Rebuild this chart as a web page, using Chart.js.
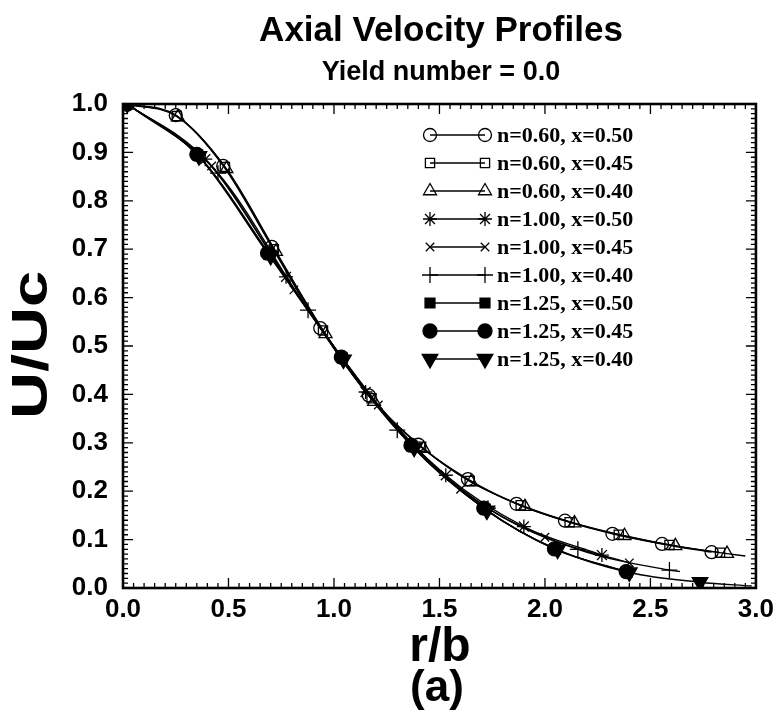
<!DOCTYPE html>
<html>
<head>
<meta charset="utf-8">
<script src="https://cdn.jsdelivr.net/npm/chart.js@4/dist/chart.umd.min.js"></script>
<style>
  html, body { margin: 0; padding: 0; background: #fff; }
  #wrap { position: relative; width: 780px; height: 714px; }
</style>
</head>
<body>
<div id="wrap"><canvas id="c" width="780" height="714"></canvas></div>
<script>
// ---- data (r/b, U/Uc) ----
const labels = ["n=0.60, x=0.50","n=0.60, x=0.45","n=0.60, x=0.40",
                "n=1.00, x=0.50","n=1.00, x=0.45","n=1.00, x=0.40",
                "n=1.25, x=0.50","n=1.25, x=0.45","n=1.25, x=0.40"];

const rN060x050 = [0.02,0.25,0.475,0.705,0.935,1.165,1.40,1.635,1.865,2.095,2.32,2.555,2.79];
const uN060x050 = [1.0,0.977,0.872,0.705,0.537,0.398,0.296,0.225,0.174,0.139,0.112,0.091,0.074];
const rN060x045 = [0.02,0.255,0.483,0.715,0.948,1.178,1.413,1.643,1.885,2.117,2.35,2.59,2.83];
const uN060x045 = [1.0,0.975,0.870,0.700,0.532,0.392,0.292,0.221,0.171,0.136,0.110,0.089,0.073];
const rN060x040 = [0.02,0.26,0.49,0.725,0.96,1.19,1.425,1.65,1.905,2.14,2.377,2.618,2.863,2.95];
const uN060x040 = [1.0,0.973,0.866,0.695,0.525,0.385,0.288,0.219,0.168,0.134,0.108,0.087,0.071,0.066];

const rN100x050 = [0.02,0.39,0.773,1.15,1.53,1.90,2.27];
const uN100x050 = [1.0,0.886,0.643,0.405,0.233,0.127,0.068];
const rN100x045 = [0.02,0.42,0.81,1.21,1.60,2.00,2.40];
const uN100x045 = [1.0,0.872,0.616,0.378,0.204,0.105,0.052];
const rN100x040 = [0.02,0.45,0.877,1.30,1.73,2.156,2.59,2.64];
const uN100x040 = [1.0,0.857,0.574,0.326,0.165,0.080,0.037,0.034];

const rN125x050 = [0.02,0.354,0.69,1.04,1.37,1.717,2.05,2.39];
const uN125x050 = [1.0,0.895,0.690,0.475,0.293,0.163,0.080,0.033];
const rN125x045 = [0.02,0.35,0.685,1.035,1.365,1.71,2.045,2.385];
const uN125x045 = [1.0,0.896,0.692,0.477,0.295,0.165,0.081,0.034];
const rN125x040 = [0.02,0.36,0.70,1.045,1.38,1.725,2.06,2.40,2.735,2.98];
const uN125x040 = [1.0,0.892,0.686,0.472,0.290,0.160,0.079,0.032,0.012,0.004];

const xTickLabels = ["0.0","0.5","1.0","1.5","2.0","2.5","3.0"];
const yTickLabels = ["0.0","0.1","0.2","0.3","0.4","0.5","0.6","0.7","0.8","0.9","1.0"];

// ---- build datasets ----
const rs = [rN060x050,rN060x045,rN060x040,rN100x050,rN100x045,rN100x040,rN125x050,rN125x045,rN125x040];
const us = [uN060x050,uN060x045,uN060x040,uN100x050,uN100x045,uN100x040,uN125x050,uN125x045,uN125x040];
const styles = [
  {ps:'circle', r:6.5, fill:false, rot:0},
  {ps:'rect', r:6.5, fill:false, rot:0},
  {ps:'triangle', r:7.5, fill:false, rot:0},
  {ps:'star', r:7, fill:false, rot:0},
  {ps:'crossRot', r:6, fill:false, rot:0},
  {ps:'cross', r:8, fill:false, rot:0},
  {ps:'rect', r:7, fill:true, rot:0},
  {ps:'circle', r:7, fill:true, rot:0},
  {ps:'triangle', r:9, fill:true, rot:180}
];
// which series have trailing line-only point
const lineOnlyEnd = [false,false,true,false,false,true,false,false,true];

const datasets = labels.map((lab, i) => {
  const data = rs[i].map((r, k) => ({x: r, y: us[i][k]}));
  const st = styles[i];
  const radii = data.map((_, k) => (lineOnlyEnd[i] && k === data.length - 1) ? 0 : st.r);
  return {
    label: lab,
    data: data,
    showLine: true,
    borderColor: '#000',
    borderWidth: 1.4,
    backgroundColor: st.fill ? '#000' : 'rgba(0,0,0,0)',
    pointBackgroundColor: st.fill ? '#000' : 'rgba(0,0,0,0)',
    pointBorderColor: '#000',
    pointBorderWidth: 1.3,
    pointStyle: st.ps,
    pointRotation: st.rot,
    pointRadius: radii,
    cubicInterpolationMode: 'monotone',
    _st: st
  };
});

const FONT = '"Liberation Sans", Arial, Helvetica, sans-serif';

const framePlugin = {
  id: 'frame',
  afterDatasetsDraw(chart) {
    const ctx = chart.ctx, ca = chart.chartArea;
    const xs = chart.scales.x, ys = chart.scales.y;
    ctx.save();
    ctx.strokeStyle = '#000';
    // ticks
    ctx.lineWidth = 1.3;
    ctx.beginPath();
    for (let i = 0; i <= 60; i++) {
      const v = i * 0.05;
      const px = xs.getPixelForValue(v);
      const len = (i % 10 === 0) ? 10 : 5;
      ctx.moveTo(px, ca.bottom); ctx.lineTo(px, ca.bottom - len);
      ctx.moveTo(px, ca.top); ctx.lineTo(px, ca.top + len);
    }
    for (let i = 0; i <= 100; i++) {
      const v = i * 0.01;
      const py = ys.getPixelForValue(v);
      const len = (i % 10 === 0) ? 10 : 5;
      ctx.moveTo(ca.left, py); ctx.lineTo(ca.left + len, py);
      ctx.moveTo(ca.right, py); ctx.lineTo(ca.right - len, py);
    }
    ctx.stroke();
    ctx.lineWidth = 2.6;
    ctx.strokeRect(ca.left, ca.top, ca.right - ca.left, ca.bottom - ca.top);

    // legend
    const lx1 = 430, lx2 = 485, tx = 497, y0 = 135, dy = 28.0;
    chart.data.datasets.forEach((ds, i) => {
      const y = y0 + i * dy;
      const st = ds._st;
      ctx.lineWidth = 1.3;
      ctx.beginPath(); ctx.moveTo(lx1, y); ctx.lineTo(lx2, y); ctx.stroke();
      ctx.fillStyle = st.fill ? '#000' : 'rgba(0,0,0,0)';
      ctx.strokeStyle = '#000';
      ctx.lineWidth = 1.3;
      const opts = {pointStyle: st.ps, radius: st.r, rotation: st.rot, borderWidth: 1.3};
      Chart.helpers.drawPoint(ctx, opts, lx1, y);
      Chart.helpers.drawPoint(ctx, opts, lx2, y);
      ctx.fillStyle = '#000';
      ctx.font = 'bold 22px "Liberation Serif", "Times New Roman", serif';
      ctx.textAlign = 'left';
      ctx.textBaseline = 'middle';
      ctx.fillText(ds.label, tx, y + 1);
    });
    ctx.restore();
  },
  afterDraw(chart) {
    const ctx = chart.ctx;
    ctx.save();
    ctx.fillStyle = '#000';
    ctx.textAlign = 'center';
    ctx.textBaseline = 'middle';
    ctx.font = 'bold 35px ' + FONT;
    ctx.fillText('Axial Velocity Profiles', 441, 31);
    ctx.font = 'bold 27px ' + FONT;
    ctx.fillText('Yield number = 0.0', 441, 73);
    ctx.font = 'bold 48px ' + FONT;
    ctx.fillText('r/b', 440, 648);
    ctx.font = 'bold 44px ' + FONT;
    ctx.fillText('(a)', 437, 689);
    ctx.save();
    ctx.translate(33, 345);
    ctx.rotate(-Math.PI / 2);
    ctx.scale(1.3, 1);
    ctx.font = 'bold 50px ' + FONT;
    ctx.fillText('U/Uc', 0, 0);
    ctx.restore();
    ctx.restore();
  }
};

new Chart(document.getElementById('c'), {
  type: 'scatter',
  data: { datasets },
  options: {
    responsive: false,
    animation: false,
    layout: { padding: { left: 0, top: 104, right: 21, bottom: 0 } },
    plugins: { legend: { display: false }, tooltip: { enabled: false }, title: { display: false } },
    scales: {
      x: {
        type: 'linear', min: 0, max: 3,
        afterFit(s) { s.height = 126; },
        afterBuildTicks(s) { s.ticks = xTickLabels.map(t => ({value: parseFloat(t)})); },
        grid: { display: false, drawTicks: false },
        border: { display: false },
        ticks: {
          padding: 6,
          color: '#000',
          font: { family: FONT, weight: 'bold', size: 26 },
          callback: (v) => xTickLabels.find(t => parseFloat(t) === v) || ''
        }
      },
      y: {
        type: 'linear', min: 0, max: 1,
        afterFit(s) { s.width = 123; },
        afterBuildTicks(s) { s.ticks = yTickLabels.map(t => ({value: parseFloat(t)})); },
        grid: { display: false, drawTicks: false },
        border: { display: false },
        ticks: {
          padding: 15,
          color: '#000',
          font: { family: FONT, weight: 'bold', size: 26 },
          callback: (v) => yTickLabels.find(t => Math.abs(parseFloat(t) - v) < 1e-9) || ''
        }
      }
    }
  },
  plugins: [framePlugin]
});
</script>
</body>
</html>
